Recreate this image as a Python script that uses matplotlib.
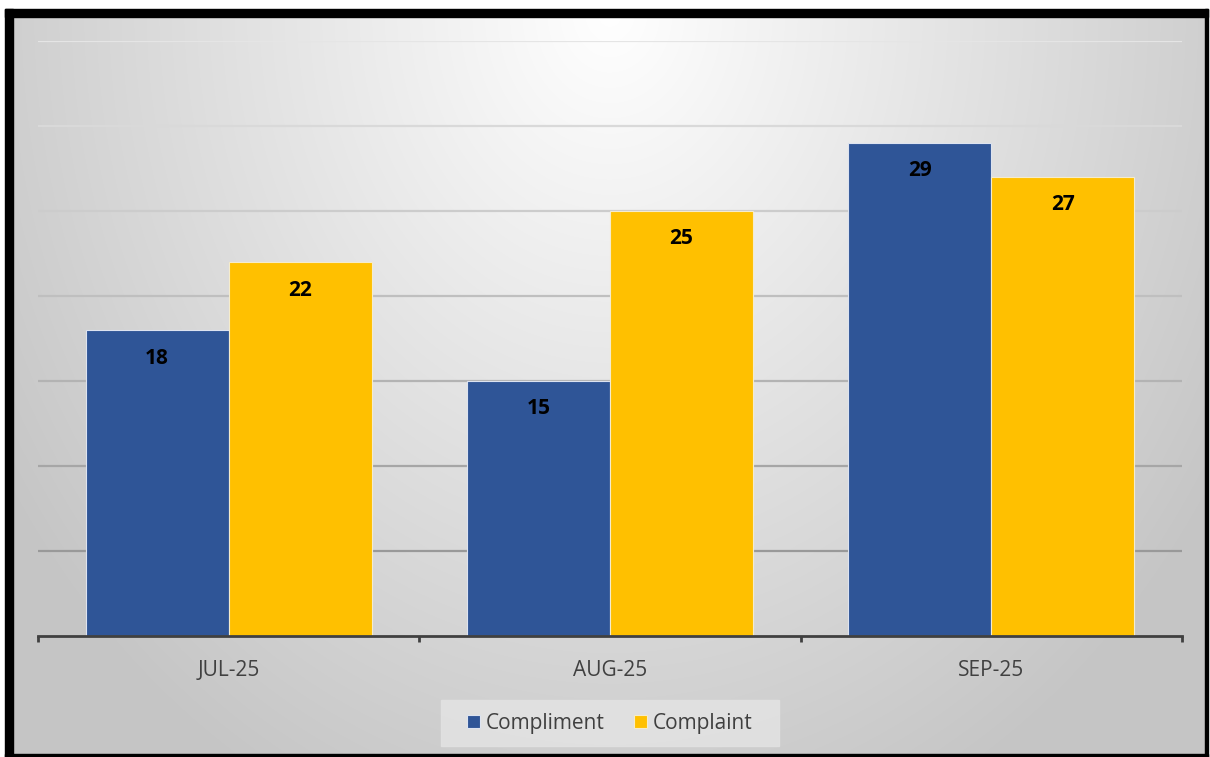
import numpy as np
import matplotlib
matplotlib.use("Agg")
import matplotlib.pyplot as plt
from matplotlib.patches import Rectangle

categories = ["JUL-25", "AUG-25", "SEP-25"]
compliment = [18, 15, 29]
complaint = [22, 25, 27]
series_names = ["Compliment", "Complaint"]
colors = ["#2F5597", "#FFC000"]

W, H = 1210, 757
plt.rcParams['font.family'] = ['Open Sans', 'DejaVu Sans']
fig = plt.figure(figsize=(W / 100, H / 100), dpi=100, facecolor="white")

def fx(x):
    return x / W

def fy(y):
    return 1 - y / H

# background gradient axes
bg = fig.add_axes([0, 0, 1, 1], zorder=-10)
bg.set_xlim(0, W)
bg.set_ylim(H, 0)
bg.axis("off")
x0, x1, y0, y1 = 13, 1205, 17, 754
xs = np.linspace(x0, x1, 400)
ys = np.linspace(y0, y1, 250)
X, Y = np.meshgrid(xs, ys)
r = np.sqrt(((X - 610) / 720) ** 2 + ((Y - 10) / 880) ** 2)
lo, hi = 1.0, 0.775
v = hi + (lo - hi) * np.clip(1 - r, 0, 1)
v = np.clip(v, 0.77, 1.0)
img = np.dstack([v, v, v])
bg.imshow(img, extent=(x0, x1, y1, y0), aspect="auto", interpolation="bilinear")
# black frame
bg.add_patch(Rectangle((5, 9), 8, 748, color="black"))
bg.add_patch(Rectangle((5, 9), 1203, 8, color="black"))
bg.add_patch(Rectangle((1205, 9), 3, 748, color="black"))
bg.add_patch(Rectangle((5, 754), 1203, 3, color="black"))
# legend background
bg.add_patch(Rectangle((441, 700), 338, 46, color="#e2e2e2", alpha=0.9))

ax = fig.add_axes([fx(38), fy(636), fx(1182) - fx(38), fy(41) - fy(636)])
ax.patch.set_alpha(0)
x = np.arange(len(categories))
w = 0.375
b1 = ax.bar(x - w / 2, compliment, w, color=colors[0], edgecolor="#dde3f0", linewidth=0.8, label=series_names[0], zorder=3)
b2 = ax.bar(x + w / 2, complaint, w, color=colors[1], edgecolor="#f5eccc", linewidth=0.8, label=series_names[1], zorder=3)
for bars in (b1, b2):
    for rect in bars:
        ax.annotate(f"{int(rect.get_height())}", (rect.get_x() + rect.get_width() / 2, rect.get_height()),
                    xytext=(0, -28), textcoords="offset pixels", ha="center", va="center",
                    fontsize=15, fontweight="bold", color="black", zorder=4)

ax.set_ylim(0, 35)
ax.set_xlim(-0.5, 2.5)
ax.set_yticks([])
grid_vals = np.arange(5, 36, 5)
for gv in grid_vals:
    shade = 0.60 + (gv - 5) / 30 * 0.30
    ax.axhline(gv, color=(shade, shade, shade), linewidth=1.6, zorder=1)
ax.tick_params(axis="y", left=False, labelleft=False)
for s in ["top", "right", "left"]:
    ax.spines[s].set_visible(False)
ax.spines["bottom"].set_color("#404040")
ax.spines["bottom"].set_linewidth(2.0)
ax.spines["bottom"].set_zorder(5)
ax.set_xticks([-0.5, 0.5, 1.5, 2.5])
ax.set_xticklabels([])
ax.set_xticks(x, minor=True)
ax.set_xticklabels(categories, minor=True)
ax.tick_params(axis="x", which="major", direction="out", length=4.5, width=2.0, color="#404040")
ax.tick_params(axis="x", which="minor", length=0, pad=17, labelsize=15, labelcolor="#404040")

leg = fig.legend(handles=[b1, b2], labels=series_names, loc="center", bbox_to_anchor=(fx(610), fy(723)),
                 ncol=2, frameon=False, fontsize=15, handlelength=0.6, handleheight=0.6,
                 handletextpad=0.3, columnspacing=1.4, labelcolor="#404040")

fig.savefig("out.png", dpi=100)
